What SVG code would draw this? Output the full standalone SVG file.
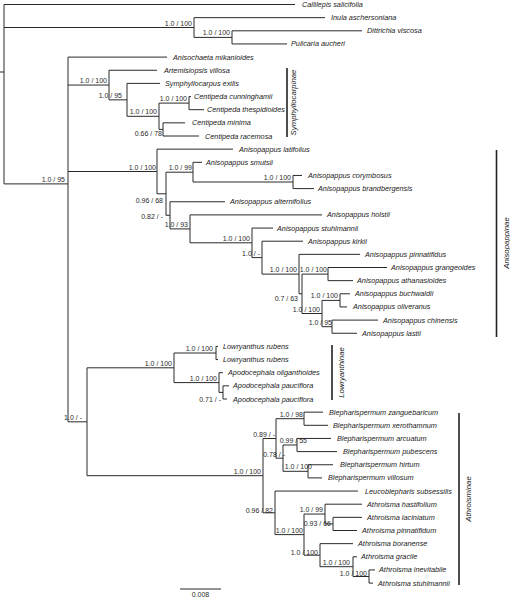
<svg xmlns="http://www.w3.org/2000/svg" width="510" height="598" viewBox="0 0 510 598">
<style>
.br{fill:none;stroke:#2a2a2a;stroke-width:1}
.bar{stroke:#222;stroke-width:1.6}
.tip{font-family:"Liberation Sans",Arial,sans-serif;font-style:italic;font-size:7.3px;fill:#1a1a1a}
.sup{font-family:"Liberation Sans",Arial,sans-serif;font-size:7px;fill:#2a2a2a;text-anchor:end}
.grp{font-family:"Liberation Sans",Arial,sans-serif;font-style:italic;font-size:7.8px;fill:#222;text-anchor:middle}
.sc{font-family:"Liberation Sans",Arial,sans-serif;font-size:7px;fill:#2a2a2a;text-anchor:middle}
</style>
<rect width="510" height="598" fill="#fff"/>
<g id="connectors" class="br">
<path d="M0,72H4 M4,4.5V183.9 M4,4.5H295"/>
<path d="M4,27.5H194 M194,17.65V37.4 M194,17.65H325 M194,37.4H232 M232,30.8V43.95 M232,30.8H362 M232,43.95H287"/>
<path d="M4,183.9H68 M68,57.1V421.8 M68,57.1H167"/>
<path d="M68,85.05H109 M109,70.25V99.85 M109,70.25H157 M109,99.85H127 M127,83.4V116.3 M127,83.4H160 M127,116.3H159 M159,103.1V129.4 M159,103.1H189 M189,96.55V109.7 M189,96.55H191 M189,109.7H204 M159,129.4H163 M163,122.85V136 M163,122.85H185 M163,136H199"/>
<path d="M68,171.5H157 M157,149.15V193.8 M157,149.15H233 M157,193.8H166 M166,172.2V215.3 M166,172.2H193 M193,162.3V182 M193,162.3H202 M193,182H293 M293,175.45V188.6 M293,175.45H302 M293,188.6H314 M166,215.3H170 M170,201.75V228.9 M170,201.75H225 M170,228.9H190 M190,214.9V242.8 M190,214.9H322 M190,242.8H252 M252,228.05V257.6 M252,228.05H273 M252,257.6H262 M262,241.2V274.1 M262,241.2H303 M262,274.1H299 M299,254.35V293.8 M299,254.35H360 M299,293.8H302 M302,274.1V313.5 M302,274.1H328 M328,267.5V280.65 M328,267.5H387 M328,280.65H353 M302,313.5H322 M322,300.4V326.7 M322,300.4H340 M340,293.8V306.95 M340,293.8H350 M340,306.95H347 M322,326.7H332 M332,320.1V333.25 M332,320.1H378 M332,333.25H357"/>
<path d="M68,421.8H87 M87,367.8V475.7"/>
<path d="M87,367.8H174 M174,353V382.6 M174,353H216 M216,346.4V359.55 M216,346.4H218 M216,359.55H218 M174,382.6H219 M219,372.7V392.4 M219,372.7H223 M219,392.4H223 M223,385.85V399 M223,385.85H229 M223,399H227"/>
<path d="M87,475.7H263 M263,438.5V512.8 M263,438.5H276 M276,418.7V458.2 M276,418.7H304 M304,412.15V425.3 M304,412.15H323 M304,425.3H328 M276,458.2H283 M283,445V471.3 M283,445H297 M297,438.45V451.6 M297,438.45H331 M297,451.6H337 M283,471.3H308 M308,464.75V477.9 M308,464.75H333 M308,477.9H322"/>
<path d="M263,512.8H275 M275,491.05V534.6 M275,491.05H358 M275,534.6H304 M304,514.05V555.2 M304,514.05H325 M325,504.2V523.9 M325,504.2H362 M325,523.9H333 M333,517.35V530.5 M333,517.35H362 M333,530.5H357 M304,555.2H320 M320,543.65V566.7 M320,543.65H353 M320,566.7H353 M353,556.8V576.5 M353,556.8H357 M353,576.5H369 M369,569.95V583.1 M369,569.95H375 M369,583.1H373"/>
</g>
<g id="support-labels" class="sup">
<text x="192" y="25.5">1.0 / 100</text>
<text x="230" y="35">1.0 / 100</text>
<text x="65" y="182">1.0 / 95</text>
<text x="107" y="83">1.0 / 100</text>
<text x="122" y="97.8">1.0 / 95</text>
<text x="157" y="114.3">1.0 / 100</text>
<text x="187" y="101">1.0 / 100</text>
<text x="162" y="135.5">0.66 / 78</text>
<text x="156" y="169.5">1.0 / 100</text>
<text x="163" y="202.5">0.96 / 68</text>
<text x="192" y="170.2">1.0 / 99</text>
<text x="291" y="180">1.0 / 100</text>
<text x="163" y="219">0.82 / -</text>
<text x="188" y="227">1.0 / 93</text>
<text x="250" y="240.8">1.0 / 100</text>
<text x="260" y="256">1.0 / -</text>
<text x="297" y="272">1.0 / 100</text>
<text x="298" y="300.5">0.7 / 63</text>
<text x="327" y="272">1.0 / 100</text>
<text x="320" y="311.5">1.0 / 100</text>
<text x="338" y="298.4">1.0 / 100</text>
<text x="332" y="325">1.0 / 95</text>
<text x="172" y="365.8">1.0 / 100</text>
<text x="213" y="351">1.0 / 100</text>
<text x="217" y="380.6">1.0 / 100</text>
<text x="221" y="401.5">0.71 / -</text>
<text x="82" y="420">1.0 / -</text>
<text x="261" y="473.7">1.0 / 100</text>
<text x="275" y="436.5">0.89 / -</text>
<text x="303" y="416.7">1.0 / 98</text>
<text x="285" y="457">0.78 / -</text>
<text x="307" y="443">0.99 / 55</text>
<text x="312" y="469.3">1.0 / 100</text>
<text x="273" y="512.5">0.96 / 82</text>
<text x="303" y="532.6">1.0 / 100</text>
<text x="323" y="512">1.0 / 99</text>
<text x="331" y="525.5">0.93 / 66</text>
<text x="318" y="555">1.0 / 100</text>
<text x="350" y="565">1.0 / 100</text>
<text x="367" y="576">1.0 / 100</text>
</g>
<g class="tip">
<g id="t01"><text x="302" y="7">Callilepis salicifolia</text></g>
<g id="t02"><text x="331" y="20.15">Inula aschersoniana</text></g>
<g id="t03"><text x="367" y="33.3">Dittrichia viscosa</text></g>
<g id="t04"><text x="291" y="46.45">Pulicaria aucheri</text></g>
<g id="t05"><text x="173" y="59.6">Anisochaeta mikanioides</text></g>
<g id="t06"><text x="164" y="72.75">Artemisiopsis villosa</text></g>
<g id="t07"><text x="165" y="85.9">Symphyllocarpus exilis</text></g>
<g id="t08"><text x="194" y="99.05">Centipeda cunninghamii</text></g>
<g id="t09"><text x="207" y="112.2">Centipeda thespidioides</text></g>
<g id="t10"><text x="192" y="125.35">Centipeda minima</text></g>
<g id="t11"><text x="205" y="138.5">Centipeda racemosa</text></g>
<g id="t12"><text x="239" y="151.65">Anisopappus latifolius</text></g>
<g id="t13"><text x="206" y="164.8">Anisopappus smutsii</text></g>
<g id="t14"><text x="308" y="177.95">Anisopappus corymbosus</text></g>
<g id="t15"><text x="318" y="191.1">Anisopappus brandbergensis</text></g>
<g id="t16"><text x="230" y="204.25">Anisopappus alternifolius</text></g>
<g id="t17"><text x="327" y="217.4">Anisopappus holstii</text></g>
<g id="t18"><text x="277" y="230.55">Anisopappus stuhlmannii</text></g>
<g id="t19"><text x="308" y="243.7">Anisopappus kirkii</text></g>
<g id="t20"><text x="365" y="256.85">Anisopappus pinnatifidus</text></g>
<g id="t21"><text x="391" y="270">Anisopappus grangeoides</text></g>
<g id="t22"><text x="357" y="283.15">Anisopappus athanasioides</text></g>
<g id="t23"><text x="355" y="296.3">Anisopappus buchwaldii</text></g>
<g id="t24"><text x="353" y="309.45">Anisopappus oliveranus</text></g>
<g id="t25"><text x="383" y="322.6">Anisopappus chinensis</text></g>
<g id="t26"><text x="362" y="335.75">Anisopappus lastii</text></g>
<g id="t27"><text x="223" y="348.9">Lowryanthus rubens</text></g>
<g id="t28"><text x="223" y="362.05">Lowryanthus rubens</text></g>
<g id="t29"><text x="228" y="375.2">Apodocephala oliganthoides</text></g>
<g id="t30"><text x="233" y="388.35">Apodocephala pauciflora</text></g>
<g id="t31"><text x="233" y="401.5">Apodocephala pauciflora</text></g>
<g id="t32"><text x="329" y="414.65">Blepharispermum zanguebaricum</text></g>
<g id="t33"><text x="333" y="427.8">Blepharispermum xerothamnum</text></g>
<g id="t34"><text x="337" y="440.95">Blepharispermum arcuatum</text></g>
<g id="t35"><text x="343" y="454.1">Blepharispermum pubescens</text></g>
<g id="t36"><text x="340" y="467.25">Blepharispermum hirtum</text></g>
<g id="t37"><text x="328" y="480.4">Blepharispermum villosum</text></g>
<g id="t38"><text x="365" y="493.55">Leucoblepharis subsessilis</text></g>
<g id="t39"><text x="367" y="506.7">Athroisma hastifolium</text></g>
<g id="t40"><text x="367" y="519.85">Athroisma laciniatum</text></g>
<g id="t41"><text x="362" y="533">Athroisma pinnatifidum</text></g>
<g id="t42"><text x="358" y="546.15">Athroisma boranense</text></g>
<g id="t43"><text x="361" y="559.3">Athroisma gracile</text></g>
<g id="t44"><text x="379" y="572.45">Athroisma inevitabile</text></g>
<g id="t45"><text x="378" y="585.6">Athroisma stuhlmannii</text></g>
</g>
<g id="clade-symphyllocarpinae"><line class="bar" x1="287" y1="68" x2="287" y2="137"/><text class="grp" transform="translate(296,102.5) rotate(-90)">Symphyllocarpinae</text></g>
<g id="clade-anisopappinae"><line class="bar" x1="496.5" y1="150" x2="496.5" y2="337"/><text class="grp" transform="translate(508.5,243) rotate(-90)">Anisopappinae</text></g>
<g id="clade-lowryanthinae"><line class="bar" x1="332" y1="345" x2="332" y2="400"/><text class="grp" transform="translate(344,372.5) rotate(-90)">Lowryanthinae</text></g>
<g id="clade-athroisminae"><line class="bar" x1="459" y1="413" x2="459" y2="585"/><text class="grp" transform="translate(471,499) rotate(-90)">Athroisminae</text></g>
<g id="scale-bar"><line class="br" x1="180" y1="589" x2="221" y2="589"/><text class="sc" x="200.5" y="597">0.008</text></g>
</svg>
